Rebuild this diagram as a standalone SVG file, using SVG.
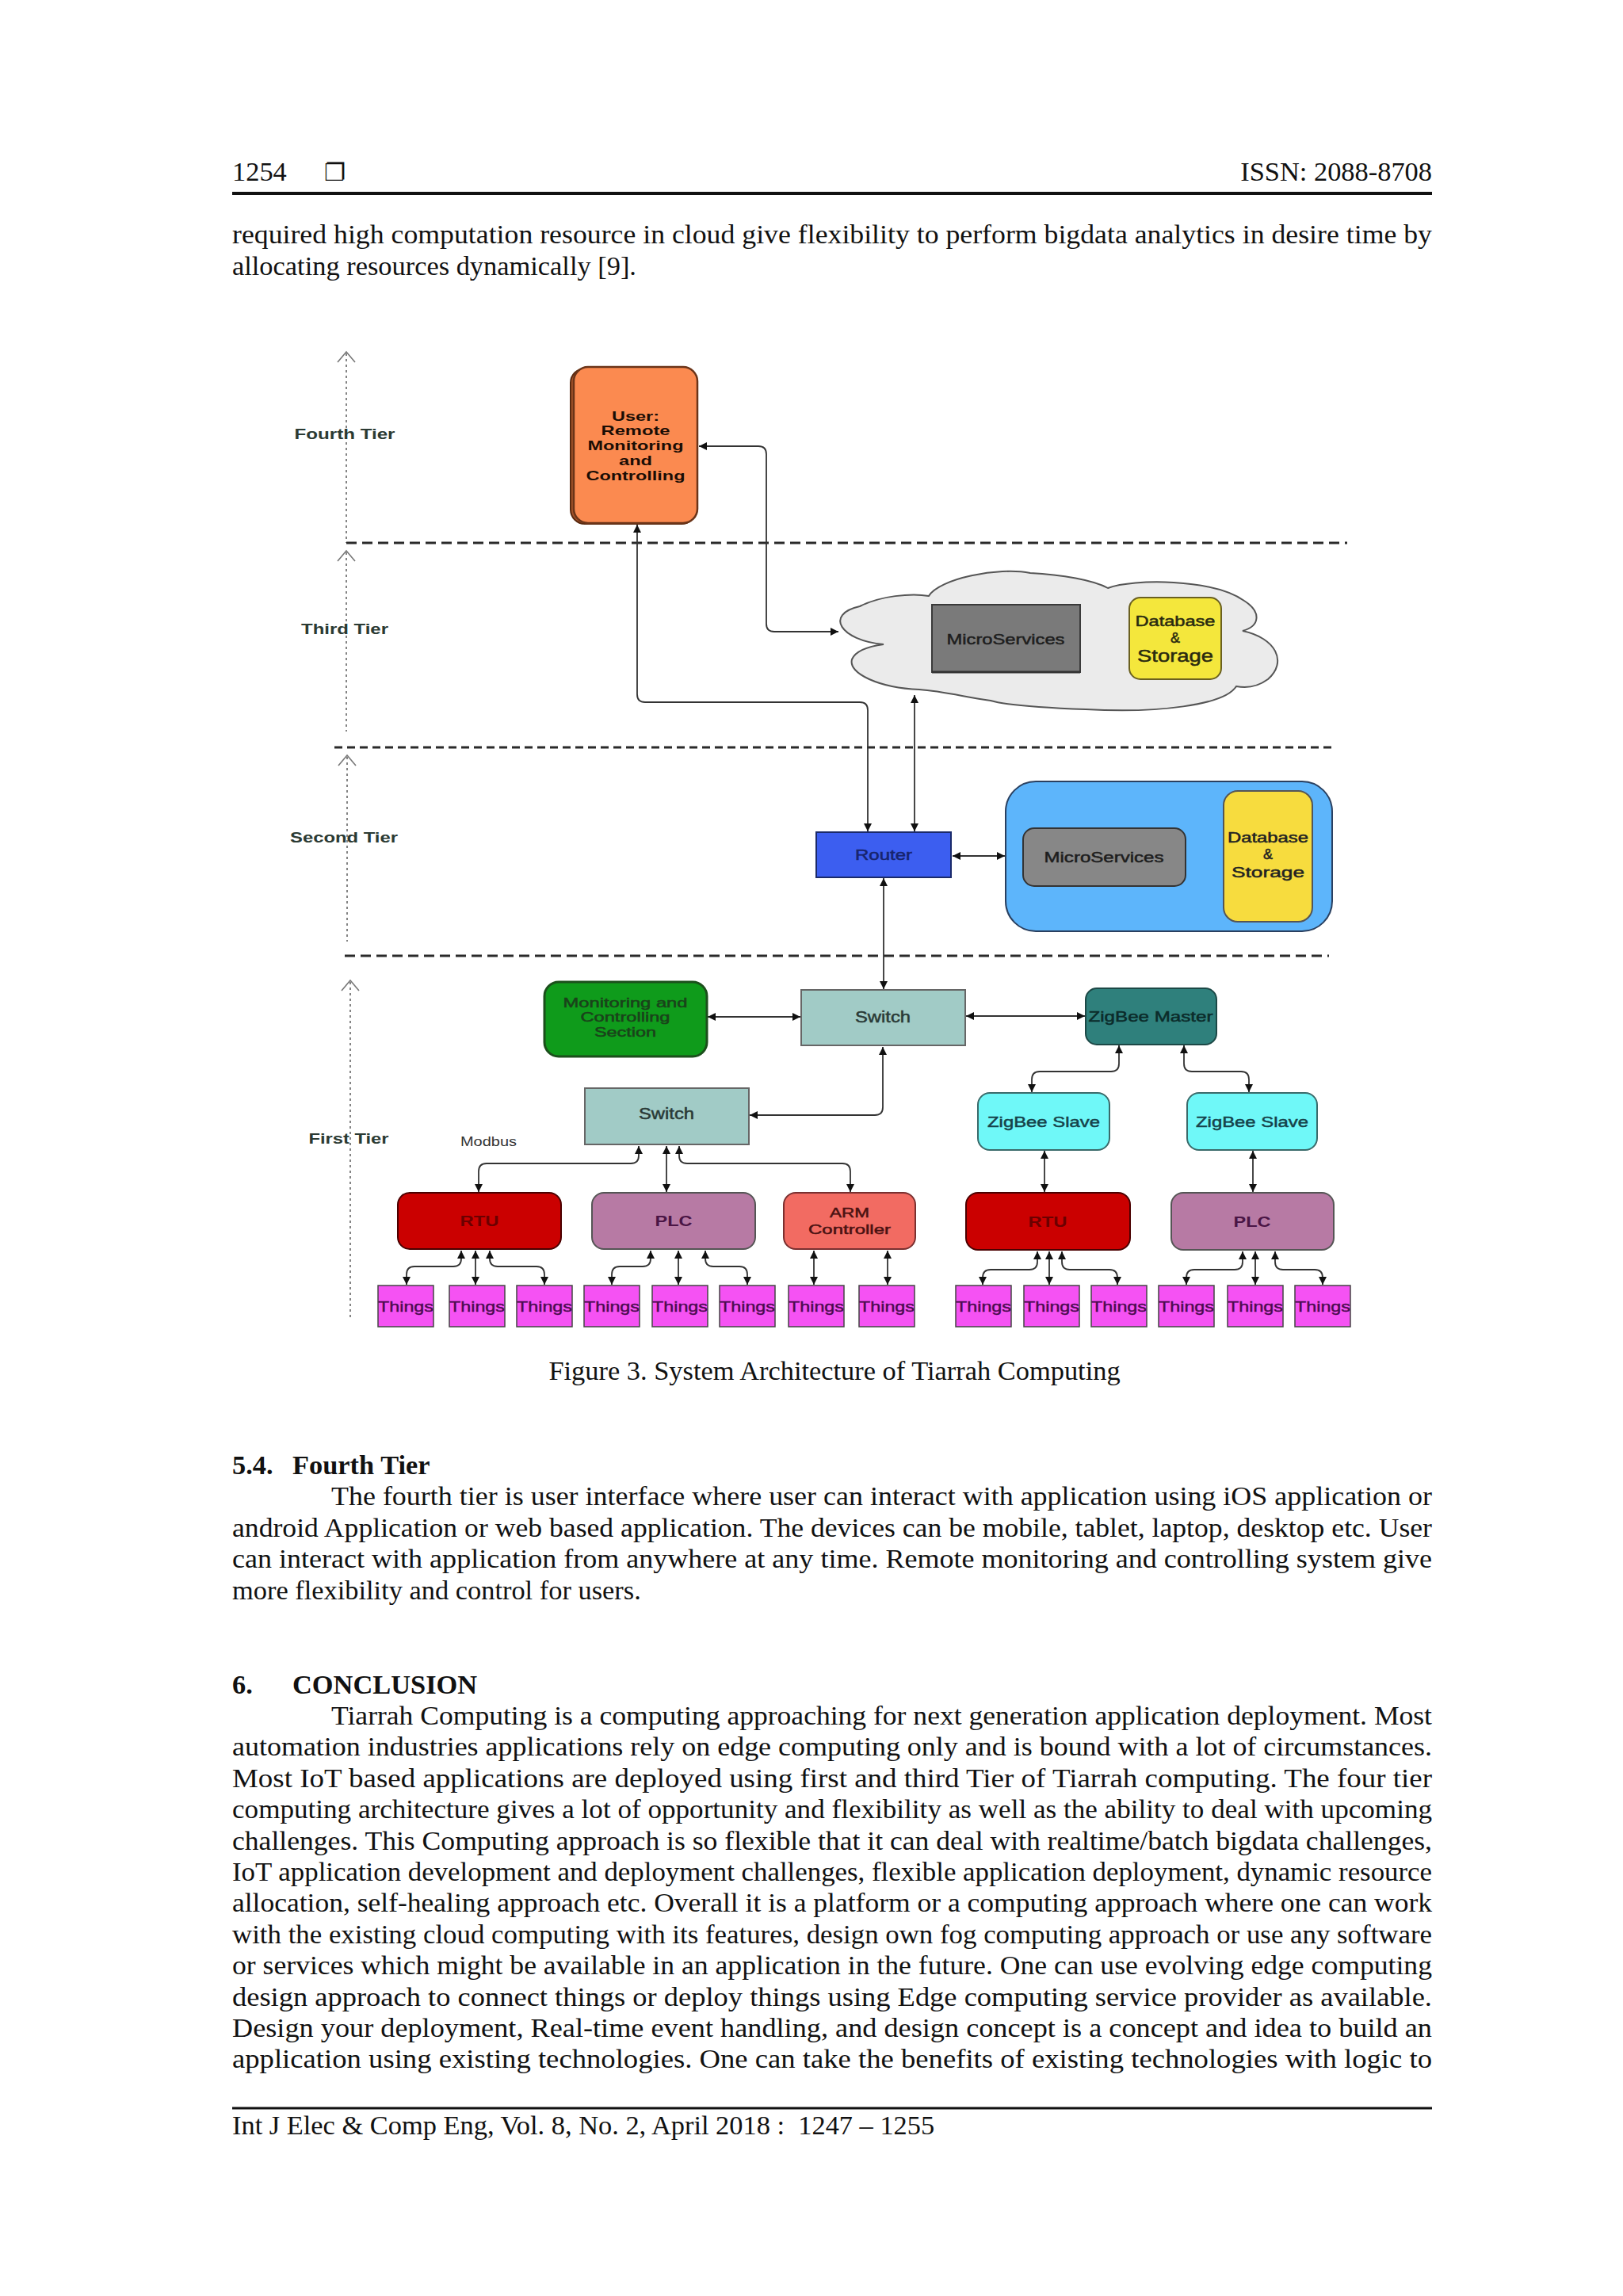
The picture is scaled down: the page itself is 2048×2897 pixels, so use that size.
<svg xmlns="http://www.w3.org/2000/svg" width="2048" height="2897" viewBox="0 0 2048 2897">
<defs>
<style>
.body{font-family:"Liberation Serif","Times New Roman",serif;font-size:34.4px;fill:#111}
.bold{font-weight:bold}
.lbl{font-family:"Liberation Sans",Arial,sans-serif;text-anchor:middle;stroke-width:0.5}
.tier{font-family:"Liberation Sans",Arial,sans-serif;font-weight:bold;font-size:19px;fill:#2b3a33;text-anchor:middle}
.axis{stroke:#666;stroke-width:1.6;fill:none;stroke-dasharray:3 4}
.chev{stroke:#777;stroke-width:1.6;fill:none}
.tline{stroke:#2a2a2a;stroke-width:3;fill:none}
.con{stroke:#333;stroke-width:1.8;fill:none;marker-start:url(#arr);marker-end:url(#arr)}
.things rect{fill:#f552f3;stroke:#444;stroke-width:1.5}
.things text{font-family:"Liberation Sans",Arial,sans-serif;font-size:19px;fill:#4b0b4f;stroke:#4b0b4f;stroke-width:0.4;text-anchor:middle}
</style>
<marker id="arr" viewBox="0 0 10 10" refX="10" refY="5" markerUnits="userSpaceOnUse" markerWidth="11" markerHeight="10" orient="auto-start-reverse">
<path d="M0,0 L10,5 L0,10 z" fill="#111"/>
</marker>
</defs>
<rect width="2048" height="2897" fill="#ffffff"/>

<!-- header -->
<g id="header">
<text class="body" x="293" y="228">1254</text>
<text x="409" y="228" font-family="DejaVu Sans,sans-serif" font-size="30" fill="#111">❐</text>
<text class="body" x="1807" y="228" text-anchor="end">ISSN: 2088-8708</text>
<line x1="293" y1="244" x2="1807" y2="244" stroke="#111" stroke-width="4"/>
</g>

<g id="para-top">
<text class="body" x="293" y="307" textLength="1514" lengthAdjust="spacingAndGlyphs">required high computation resource in cloud give flexibility to perform bigdata analytics in desire time by</text>
<text class="body" x="293" y="347">allocating resources dynamically [9].</text>
</g>

<!-- tier axes and separators -->
<g id="tiers">
<line class="axis" x1="437" y1="446" x2="437" y2="685"/>
<path class="chev" d="M426 457 L437 444 L448 457"/>
<line class="axis" x1="437" y1="697" x2="437" y2="923"/>
<path class="chev" d="M426 708 L437 695 L448 708"/>
<line class="axis" x1="438" y1="955" x2="438" y2="1188"/>
<path class="chev" d="M427 966 L438 953 L449 966"/>
<line class="axis" x1="442" y1="1239" x2="442" y2="1662"/>
<path class="chev" d="M431 1250 L442 1237 L453 1250"/>
<line class="tline" x1="437" y1="685" x2="1700" y2="685" stroke-dasharray="13 7"/>
<line class="tline" x1="422" y1="943" x2="1685" y2="943" stroke-dasharray="10 6"/>
<line class="tline" x1="435" y1="1206" x2="1677" y2="1206" stroke-dasharray="13 7"/>
<text class="tier" x="435" y="554" textLength="127" lengthAdjust="spacingAndGlyphs">Fourth Tier</text>
<text class="tier" x="435" y="800" textLength="110" lengthAdjust="spacingAndGlyphs">Third Tier</text>
<text class="tier" x="434" y="1063" textLength="136" lengthAdjust="spacingAndGlyphs">Second Tier</text>
<text class="tier" x="440" y="1443" textLength="101" lengthAdjust="spacingAndGlyphs">First Tier</text>
</g>

<!-- connectors -->
<g id="connectors">
<path class="con" d="M804 662 V876 Q804 886 814 886 H1085 Q1095 886 1095 896 V1049"/>
<path class="con" d="M882 563 H957 Q967 563 967 573 V787 Q967 797 977 797 H1058"/>
<path class="con" d="M1154 1049 V877"/>
<path class="con" d="M1366 806 H1423"/>
<path class="con" d="M1202 1080 H1268"/>
<path class="con" d="M1498 1080 H1543"/>
<path class="con" d="M1115 1108 V1248"/>
<path class="con" d="M893 1283 H1010"/>
<path class="con" d="M1219 1282 H1369"/>
<path class="con" d="M1114 1321 V1397 Q1114 1407 1104 1407 H946"/>
<path class="con" d="M806 1446 V1458 Q806 1468 796 1468 H614 Q604 1468 604 1478 V1504"/>
<path class="con" d="M841 1446 V1504"/>
<path class="con" d="M857 1446 V1458 Q857 1468 867 1468 H1063 Q1073 1468 1073 1478 V1504"/>
<path class="con" d="M582 1578 V1588 Q582 1598 572 1598 H523 Q513 1598 513 1608 V1621"/>
<path class="con" d="M600 1578 V1621"/>
<path class="con" d="M618 1578 V1588 Q618 1598 628 1598 H677 Q687 1598 687 1608 V1621"/>
<path class="con" d="M821 1578 V1588 Q821 1598 811 1598 H782 Q772 1598 772 1608 V1621"/>
<path class="con" d="M856 1578 V1621"/>
<path class="con" d="M890 1578 V1588 Q890 1598 900 1598 H933 Q943 1598 943 1608 V1621"/>
<path class="con" d="M1027 1578 V1621"/>
<path class="con" d="M1120 1578 V1621"/>
<path class="con" d="M1412 1319 V1342 Q1412 1352 1402 1352 H1312 Q1302 1352 1302 1362 V1378"/>
<path class="con" d="M1494 1319 V1342 Q1494 1352 1504 1352 H1566 Q1576 1352 1576 1362 V1378"/>
<path class="con" d="M1318 1452 V1504"/>
<path class="con" d="M1581 1452 V1504"/>
<path class="con" d="M1309 1579 V1592 Q1309 1602 1299 1602 H1250 Q1240 1602 1240 1612 V1621"/>
<path class="con" d="M1324 1579 V1621"/>
<path class="con" d="M1340 1579 V1592 Q1340 1602 1350 1602 H1400 Q1410 1602 1410 1612 V1621"/>
<path class="con" d="M1568 1579 V1592 Q1568 1602 1558 1602 H1507 Q1497 1602 1497 1612 V1621"/>
<path class="con" d="M1584 1579 V1621"/>
<path class="con" d="M1609 1579 V1592 Q1609 1602 1619 1602 H1659 Q1669 1602 1669 1612 V1621"/>
</g>

<!-- Fourth tier -->
<g id="user">
<rect x="720" y="465" width="158" height="196" rx="18" fill="#a4532a" stroke="#5a2a10" stroke-width="2"/>
<rect x="724" y="463" width="156" height="197" rx="18" fill="#fb8a50" stroke="#6b3418" stroke-width="2.5"/>
<g class="lbl" font-weight="bold" font-size="17" fill="#1a0d05">
<text x="802" y="531" textLength="60" lengthAdjust="spacingAndGlyphs">User:</text>
<text x="802" y="549" textLength="87" lengthAdjust="spacingAndGlyphs">Remote</text>
<text x="802" y="568" textLength="121" lengthAdjust="spacingAndGlyphs">Monitoring</text>
<text x="802" y="587" textLength="42" lengthAdjust="spacingAndGlyphs">and</text>
<text x="802" y="606" textLength="125" lengthAdjust="spacingAndGlyphs">Controlling</text>
</g>
</g>

<!-- Third tier: cloud -->
<g id="cloud">
<path d="M1115 813 C1060 808 1040 775 1085 765 C1110 752 1150 748 1172 752 C1185 730 1260 715 1300 723 C1340 725 1380 732 1398 742 C1430 730 1530 730 1570 758 C1592 772 1590 790 1568 796 C1610 805 1625 835 1600 857 C1585 868 1570 868 1560 866 C1545 890 1460 900 1370 895 C1320 893 1270 890 1250 884 C1220 880 1190 872 1160 870 C1110 868 1070 850 1075 832 C1080 820 1100 815 1115 813 Z" fill="#ebebeb" stroke="#555" stroke-width="2"/>
</g>
<g id="cloud-microservices">
<rect x="1176" y="763" width="187" height="85" fill="#7a7a7a" stroke="#3a3a3a" stroke-width="2"/>
<line x1="1176" y1="848" x2="1363" y2="848" stroke="#333" stroke-width="3"/>
<text class="lbl" x="1269" y="813" font-size="19" fill="#1e1e1e" stroke="#1e1e1e" textLength="149" lengthAdjust="spacingAndGlyphs">MicroServices</text>
</g>
<g id="cloud-database">
<rect x="1425" y="754" width="116" height="103" rx="14" fill="#f4e73c" stroke="#6a6020" stroke-width="2"/>
<text class="lbl" x="1483" y="790" font-size="18" fill="#2a2a10" stroke="#2a2a10" textLength="101" lengthAdjust="spacingAndGlyphs">Database</text>
<text class="lbl" x="1483" y="811" font-size="18" fill="#2a2a10" stroke="#2a2a10">&amp;</text>
<text class="lbl" x="1483" y="835" font-size="22" fill="#2a2a10" stroke="#2a2a10" textLength="96" lengthAdjust="spacingAndGlyphs">Storage</text>
</g>

<!-- Second tier -->
<g id="router">
<rect x="1030" y="1050" width="170" height="57" fill="#3c5ef0" stroke="#1a2a6a" stroke-width="2"/>
<text class="lbl" x="1115" y="1085" font-size="18" fill="#17246e" stroke="#17246e" textLength="72" lengthAdjust="spacingAndGlyphs">Router</text>
</g>
<g id="fog-container">
<rect x="1269" y="986" width="412" height="189" rx="38" fill="#5db5fb" stroke="#2a4060" stroke-width="2"/>
</g>
<g id="fog-microservices">
<rect x="1291" y="1045" width="205" height="73" rx="14" fill="#878787" stroke="#333" stroke-width="2"/>
<text class="lbl" x="1393" y="1088" font-size="18" fill="#1e1e1e" stroke="#1e1e1e" textLength="151" lengthAdjust="spacingAndGlyphs">MicroServices</text>
</g>
<g id="fog-database">
<rect x="1544" y="998" width="112" height="165" rx="18" fill="#f7dc3e" stroke="#555" stroke-width="2"/>
<text class="lbl" x="1600" y="1063" font-size="18" fill="#222" stroke="#222" textLength="102" lengthAdjust="spacingAndGlyphs">Database</text>
<text class="lbl" x="1600" y="1084" font-size="18" fill="#222" stroke="#222">&amp;</text>
<text class="lbl" x="1600" y="1107" font-size="19" fill="#222" stroke="#222" textLength="92" lengthAdjust="spacingAndGlyphs">Storage</text>
</g>

<!-- First tier -->
<g id="mcs">
<rect x="687" y="1239" width="205" height="94" rx="18" fill="#0f9b1b" stroke="#1c4f1c" stroke-width="3"/>
<g class="lbl" font-size="17" fill="#1a421a" stroke="#1a421a">
<text x="789" y="1271" textLength="157" lengthAdjust="spacingAndGlyphs">Monitoring and</text>
<text x="789" y="1289" textLength="113" lengthAdjust="spacingAndGlyphs">Controlling</text>
<text x="789" y="1308" textLength="78" lengthAdjust="spacingAndGlyphs">Section</text>
</g>
</g>
<g id="switch-main">
<rect x="1011" y="1249" width="207" height="70" fill="#a1cbc6" stroke="#666" stroke-width="2"/>
<text class="lbl" x="1114" y="1290" font-size="20" fill="#2a3a36" stroke="#2a3a36" textLength="70" lengthAdjust="spacingAndGlyphs">Switch</text>
</g>
<g id="zigbee-master">
<rect x="1370" y="1247" width="165" height="71" rx="14" fill="#2f807c" stroke="#1c4846" stroke-width="2"/>
<text class="lbl" x="1452" y="1289" font-size="19" fill="#0b2b2a" stroke="#0b2b2a" textLength="157" lengthAdjust="spacingAndGlyphs">ZigBee Master</text>
</g>
<g id="switch-modbus">
<rect x="738" y="1373" width="207" height="71" fill="#a1cbc6" stroke="#666" stroke-width="2"/>
<text class="lbl" x="841" y="1412" font-size="20" fill="#2a3a36" stroke="#2a3a36" textLength="70" lengthAdjust="spacingAndGlyphs">Switch</text>
</g>
<text x="581" y="1446" font-family="Liberation Sans,Arial,sans-serif" font-size="16" fill="#333" textLength="71" lengthAdjust="spacingAndGlyphs">Modbus</text>
<g id="zigbee-slave-1">
<rect x="1234" y="1379" width="166" height="72" rx="15" fill="#6ff8f8" stroke="#3a6a6a" stroke-width="2"/>
<text class="lbl" x="1317" y="1422" font-size="19" fill="#16424a" stroke="#16424a" textLength="142" lengthAdjust="spacingAndGlyphs">ZigBee Slave</text>
</g>
<g id="zigbee-slave-2">
<rect x="1498" y="1379" width="164" height="72" rx="15" fill="#6ff8f8" stroke="#3a6a6a" stroke-width="2"/>
<text class="lbl" x="1580" y="1422" font-size="19" fill="#16424a" stroke="#16424a" textLength="142" lengthAdjust="spacingAndGlyphs">ZigBee Slave</text>
</g>
<g id="rtu-1">
<rect x="502" y="1505" width="206" height="71" rx="15" fill="#cb0000" stroke="#4a0000" stroke-width="2"/>
<text class="lbl" x="605" y="1547" font-size="18" font-weight="bold" fill="#6b0000" textLength="49" lengthAdjust="spacingAndGlyphs">RTU</text>
</g>
<g id="plc-1">
<rect x="747" y="1505" width="206" height="71" rx="15" fill="#b77aa4" stroke="#555" stroke-width="2"/>
<text class="lbl" x="850" y="1547" font-size="18" font-weight="bold" fill="#4a1545" textLength="47" lengthAdjust="spacingAndGlyphs">PLC</text>
</g>
<g id="arm">
<rect x="989" y="1505" width="166" height="71" rx="15" fill="#f26b62" stroke="#7a3030" stroke-width="2"/>
<text class="lbl" x="1072" y="1536" font-size="17" fill="#4a1212" stroke="#4a1212" textLength="50" lengthAdjust="spacingAndGlyphs">ARM</text>
<text class="lbl" x="1072" y="1557" font-size="17" fill="#4a1212" stroke="#4a1212" textLength="104" lengthAdjust="spacingAndGlyphs">Controller</text>
</g>
<g id="rtu-2">
<rect x="1219" y="1505" width="207" height="72" rx="15" fill="#cb0000" stroke="#4a0000" stroke-width="2"/>
<text class="lbl" x="1322" y="1548" font-size="18" font-weight="bold" fill="#6b0000" textLength="49" lengthAdjust="spacingAndGlyphs">RTU</text>
</g>
<g id="plc-2">
<rect x="1478" y="1505" width="205" height="72" rx="15" fill="#b77aa4" stroke="#555" stroke-width="2"/>
<text class="lbl" x="1580" y="1548" font-size="18" font-weight="bold" fill="#4a1545" textLength="47" lengthAdjust="spacingAndGlyphs">PLC</text>
</g>

<g id="things" class="things">
<g id="thing-1"><rect x="477" y="1622" width="70" height="52"/><text x="512" y="1655" textLength="70" lengthAdjust="spacingAndGlyphs">Things</text></g>
<g id="thing-2"><rect x="567" y="1622" width="70" height="52"/><text x="602" y="1655" textLength="70" lengthAdjust="spacingAndGlyphs">Things</text></g>
<g id="thing-3"><rect x="652" y="1622" width="70" height="52"/><text x="687" y="1655" textLength="70" lengthAdjust="spacingAndGlyphs">Things</text></g>
<g id="thing-4"><rect x="737" y="1622" width="70" height="52"/><text x="772" y="1655" textLength="70" lengthAdjust="spacingAndGlyphs">Things</text></g>
<g id="thing-5"><rect x="823" y="1622" width="70" height="52"/><text x="858" y="1655" textLength="70" lengthAdjust="spacingAndGlyphs">Things</text></g>
<g id="thing-6"><rect x="908" y="1622" width="70" height="52"/><text x="943" y="1655" textLength="70" lengthAdjust="spacingAndGlyphs">Things</text></g>
<g id="thing-7"><rect x="995" y="1622" width="70" height="52"/><text x="1030" y="1655" textLength="70" lengthAdjust="spacingAndGlyphs">Things</text></g>
<g id="thing-8"><rect x="1084" y="1622" width="70" height="52"/><text x="1119" y="1655" textLength="70" lengthAdjust="spacingAndGlyphs">Things</text></g>
<g id="thing-9"><rect x="1206" y="1622" width="70" height="52"/><text x="1241" y="1655" textLength="70" lengthAdjust="spacingAndGlyphs">Things</text></g>
<g id="thing-10"><rect x="1292" y="1622" width="70" height="52"/><text x="1327" y="1655" textLength="70" lengthAdjust="spacingAndGlyphs">Things</text></g>
<g id="thing-11"><rect x="1377" y="1622" width="70" height="52"/><text x="1412" y="1655" textLength="70" lengthAdjust="spacingAndGlyphs">Things</text></g>
<g id="thing-12"><rect x="1462" y="1622" width="70" height="52"/><text x="1497" y="1655" textLength="70" lengthAdjust="spacingAndGlyphs">Things</text></g>
<g id="thing-13"><rect x="1549" y="1622" width="70" height="52"/><text x="1584" y="1655" textLength="70" lengthAdjust="spacingAndGlyphs">Things</text></g>
<g id="thing-14"><rect x="1634" y="1622" width="70" height="52"/><text x="1669" y="1655" textLength="70" lengthAdjust="spacingAndGlyphs">Things</text></g>
</g>

<!-- caption and body text -->
<text class="body" x="1053" y="1741" text-anchor="middle">Figure 3. System Architecture of Tiarrah Computing</text>

<g id="section-54">
<text class="body bold" x="293" y="1860">5.4.</text>
<text class="body bold" x="369" y="1860">Fourth Tier</text>
<text class="body" x="418" y="1899" textLength="1389" lengthAdjust="spacingAndGlyphs">The fourth tier is user interface where user can interact with application using iOS application or</text>
<text class="body" x="293" y="1939" textLength="1514" lengthAdjust="spacingAndGlyphs">android Application or web based application. The devices can be mobile, tablet, laptop, desktop etc. User</text>
<text class="body" x="293" y="1978" textLength="1514" lengthAdjust="spacingAndGlyphs">can interact with application from anywhere at any time. Remote monitoring and controlling system give</text>
<text class="body" x="293" y="2018">more flexibility and control for users.</text>
</g>

<g id="section-6">
<text class="body bold" x="293" y="2137">6.</text>
<text class="body bold" x="369" y="2137">CONCLUSION</text>
<text class="body" x="418" y="2176" textLength="1389" lengthAdjust="spacingAndGlyphs">Tiarrah Computing is a computing approaching for next generation application deployment. Most</text>
<text class="body" x="293" y="2215" textLength="1514" lengthAdjust="spacingAndGlyphs">automation industries applications rely on edge computing only and is bound with a lot of circumstances.</text>
<text class="body" x="293" y="2255" textLength="1514" lengthAdjust="spacingAndGlyphs">Most IoT based applications are deployed using first and third Tier of Tiarrah computing. The four tier</text>
<text class="body" x="293" y="2294" textLength="1514" lengthAdjust="spacingAndGlyphs">computing architecture gives a lot of opportunity and flexibility as well as the ability to deal with upcoming</text>
<text class="body" x="293" y="2334" textLength="1514" lengthAdjust="spacingAndGlyphs">challenges. This Computing approach is so flexible that it can deal with realtime/batch bigdata challenges,</text>
<text class="body" x="293" y="2373" textLength="1514" lengthAdjust="spacingAndGlyphs">IoT application development and deployment challenges, flexible application deployment, dynamic resource</text>
<text class="body" x="293" y="2412" textLength="1514" lengthAdjust="spacingAndGlyphs">allocation, self-healing approach etc. Overall it is a platform or a computing approach where one can work</text>
<text class="body" x="293" y="2452" textLength="1514" lengthAdjust="spacingAndGlyphs">with the existing cloud computing with its features, design own fog computing approach or use any software</text>
<text class="body" x="293" y="2491" textLength="1514" lengthAdjust="spacingAndGlyphs">or services which might be available in an application in the future. One can use evolving edge computing</text>
<text class="body" x="293" y="2531" textLength="1514" lengthAdjust="spacingAndGlyphs">design approach to connect things or deploy things using Edge computing service provider as available.</text>
<text class="body" x="293" y="2570" textLength="1514" lengthAdjust="spacingAndGlyphs">Design your deployment, Real-time event handling, and design concept is a concept and idea to build an</text>
<text class="body" x="293" y="2609" textLength="1514" lengthAdjust="spacingAndGlyphs">application using existing technologies. One can take the benefits of existing technologies with logic to</text>
</g>

<g id="footer">
<line x1="293" y1="2660" x2="1807" y2="2660" stroke="#111" stroke-width="3"/>
<text class="body" x="293" y="2693" xml:space="preserve">Int J Elec &amp; Comp Eng, Vol. 8, No. 2, April 2018 :  1247 – 1255</text>
</g>
</svg>
